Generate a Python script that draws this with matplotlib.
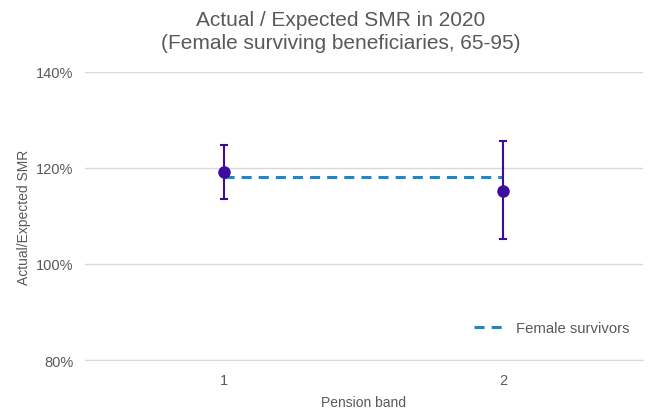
import matplotlib
matplotlib.use("Agg")
import matplotlib.pyplot as plt
from matplotlib.ticker import FuncFormatter

plt.rcParams['font.family'] = ['Liberation Sans', 'DejaVu Sans']

bands = [1, 2]
smr = [119.1, 115.3]
lower = [113.6, 105.2]
upper = [124.8, 125.7]
overall = 118.2
series_label = "Female survivors"
yticks = [80, 100, 120, 140]

fig = plt.figure(figsize=(6.52, 4.10), dpi=100)
ax = fig.add_axes([0.130, 0.1195, 0.856, 0.7025])

text_col = '#595959'
grid_col = '#d9d9d9'

ax.plot(bands, [overall, overall], linestyle=(0, (3.3, 2.3)), color='#1f87c8',
        linewidth=2.2, label=series_label, zorder=2)

yerr = [[s - l for s, l in zip(smr, lower)], [u - s for s, u in zip(smr, upper)]]
ax.errorbar(bands, smr, yerr=yerr, fmt='o', color='#3d0c9e', markersize=8,
            elinewidth=1.5, capsize=2.8, capthick=1.5, zorder=3)

ax.set_xlim(0.5, 2.5)
ax.set_ylim(80, 140)
ax.set_yticks(yticks)
ax.yaxis.set_major_formatter(FuncFormatter(lambda v, p: f"{v:.0f}%"))
ax.set_xticks(bands)
ax.grid(axis='y', color=grid_col, linewidth=1)
ax.set_axisbelow(True)
for s in ['top', 'right', 'left']:
    ax.spines[s].set_visible(False)
ax.spines['bottom'].set_color(grid_col)
ax.tick_params(axis='both', length=0, colors=text_col, labelsize=10.5)
ax.tick_params(axis='y', pad=8)
ax.tick_params(axis='x', pad=9)

ax.set_ylabel("Actual/Expected SMR", color=text_col, fontsize=10, labelpad=4)
ax.set_xlabel("Pension band", color=text_col, fontsize=10, labelpad=6)

fig.text(0.522, 0.922, "Actual / Expected SMR in 2020\n(Female surviving beneficiaries, 65-95)",
         ha='center', va='center', fontsize=15, color=text_col, linespacing=1.25)

leg = ax.legend(loc='lower right', frameon=False, fontsize=10.7, handlelength=2.0,
                handletextpad=0.8, bbox_to_anchor=(1.0, 0.04))
for t in leg.get_texts():
    t.set_color(text_col)

fig.savefig("out.png", dpi=100)
